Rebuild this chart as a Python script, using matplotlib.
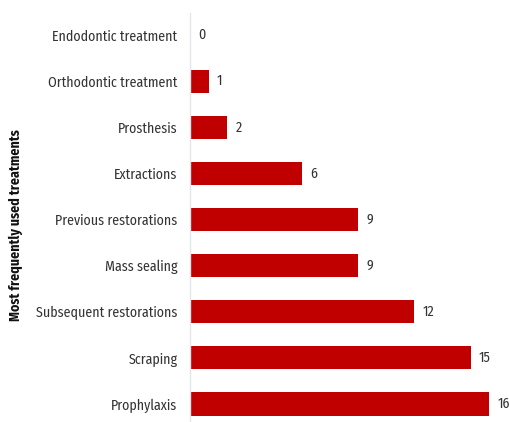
import matplotlib
matplotlib.use('Agg')
import matplotlib.pyplot as plt

treatments = ['Endodontic treatment', 'Orthodontic treatment', 'Prosthesis',
              'Extractions', 'Previous restorations', 'Mass sealing',
              'Subsequent restorations', 'Scraping', 'Prophylaxis']
counts = [0, 1, 2, 6, 9, 9, 12, 15, 16]

plt.rcParams['font.family'] = ['Fira Sans Condensed', 'DejaVu Sans']

fig = plt.figure(figsize=(5.10, 4.22), dpi=100)
ax = fig.add_axes([190 / 510, 0, 318 / 510, 409 / 422])

pos = list(range(len(treatments)))
ax.barh(pos, counts, height=0.5, color='#c00000')
for y, v in zip(pos, counts):
    ax.text(v + 0.45, y, str(v), va='center', ha='left', fontsize=10, color='#333333')

ax.set_xlim(0, 17)
ax.set_ylim(8.39, -0.48)
ax.set_yticks(pos)
ax.set_yticklabels(treatments, fontsize=10, color='#333333')
ax.tick_params(axis='y', length=0, pad=9)
ax.set_xticks([])
for side in ['top', 'right', 'bottom']:
    ax.spines[side].set_visible(False)
ax.spines['left'].set_color('#e3e6ee')
ax.spines['left'].set_linewidth(1)

fig.text(16 / 510, 1 - 225 / 422, 'Most frequently used treatments', rotation=90,
         ha='center', va='center', fontsize=10, fontweight='bold', color='#111111')

fig.savefig('out.png', dpi=100)
